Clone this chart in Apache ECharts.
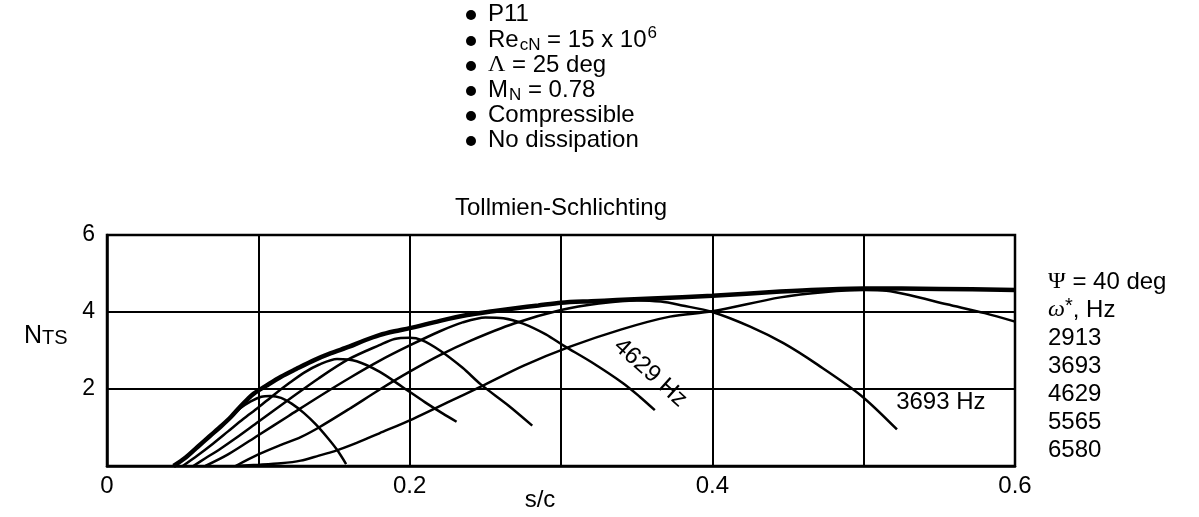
<!DOCTYPE html>
<html><head><meta charset="utf-8">
<script src="https://cdn.jsdelivr.net/npm/echarts/dist/echarts.min.js"></script>
<style>html,body{margin:0;padding:0;background:#fff}#c{width:1199px;height:517px}</style>
</head><body><div id="c"></div><script>
// ---- data (s/c, N_TS) ----
const xTickLabels = {0:'0', 2:'0.2', 4:'0.4', 6:'0.6'};
const yTickLabels = {2:'2', 4:'4', 6:'6'};
const freqLabels = ['2913','3693','4629','5565','6580'];
const envelope = [[0.044,0],[0.052,0.22],[0.06,0.5],[0.068,0.78],[0.075,1.02],[0.082,1.28],[0.088,1.54],[0.093,1.74],[0.097,1.88],[0.105,2.08],[0.115,2.32],[0.125,2.52],[0.137,2.75],[0.148,2.93],[0.16,3.1],[0.17,3.26],[0.18,3.4],[0.19,3.5],[0.2,3.58],[0.22,3.77],[0.238,3.92],[0.255,4.02],[0.27,4.1],[0.285,4.17],[0.3,4.24],[0.32,4.28],[0.337,4.31],[0.36,4.35],[0.4,4.42],[0.445,4.53],[0.47,4.58],[0.5,4.61],[0.55,4.6],[0.6,4.57]];
const curveUnlisted = [[0.044,0],[0.052,0.22],[0.06,0.5],[0.068,0.78],[0.075,1.02],[0.082,1.28],[0.088,1.5],[0.095,1.68],[0.102,1.8],[0.108,1.82],[0.115,1.77],[0.122,1.62],[0.13,1.38],[0.138,1.08],[0.146,0.72],[0.152,0.42],[0.158,0.05]];
const curve6580 = [[0.05,0],[0.06,0.28],[0.07,0.58],[0.08,0.9],[0.09,1.22],[0.1,1.52],[0.11,1.84],[0.12,2.14],[0.13,2.42],[0.14,2.63],[0.152,2.78],[0.165,2.72],[0.18,2.45],[0.195,2.06],[0.21,1.66],[0.222,1.36],[0.231,1.15]];
const curve5565 = [[0.057,0],[0.065,0.2],[0.075,0.45],[0.085,0.72],[0.1,1.15],[0.12,1.72],[0.14,2.28],[0.16,2.78],[0.18,3.14],[0.19,3.3],[0.2,3.33],[0.208,3.27],[0.22,3.0],[0.235,2.55],[0.247,2.12],[0.265,1.58],[0.281,1.05]];
const curve4629 = [[0.065,0],[0.08,0.3],[0.1,0.8],[0.12,1.3],[0.14,1.8],[0.16,2.28],[0.18,2.73],[0.2,3.13],[0.22,3.5],[0.235,3.73],[0.25,3.86],[0.262,3.84],[0.275,3.7],[0.29,3.42],[0.302,3.12],[0.32,2.7],[0.341,2.15],[0.352,1.8],[0.362,1.45]];
const curve3693 = [[0.085,0],[0.1,0.3],[0.115,0.55],[0.128,0.75],[0.14,1.0],[0.16,1.48],[0.18,1.98],[0.2,2.45],[0.22,2.88],[0.24,3.25],[0.269,3.7],[0.3,4.05],[0.325,4.22],[0.35,4.3],[0.366,4.27],[0.38,4.17],[0.4,4.0],[0.425,3.62],[0.447,3.19],[0.47,2.62],[0.498,1.84],[0.522,0.95]];
const curve2913 = [[0.085,0],[0.1,0.03],[0.115,0.07],[0.128,0.14],[0.14,0.27],[0.15,0.38],[0.165,0.6],[0.18,0.85],[0.202,1.22],[0.225,1.65],[0.247,2.06],[0.275,2.6],[0.306,3.1],[0.34,3.55],[0.372,3.88],[0.4,4.02],[0.445,4.38],[0.475,4.52],[0.5,4.57],[0.515,4.55],[0.53,4.44],[0.555,4.2],[0.58,3.97],[0.6,3.75]];
const label4629Anchor = [0.359, 2.42];
const label3693Anchor = [0.551, 1.64];

const FONT = '"Liberation Sans", Arial, Helvetica, sans-serif';
const SERIF = '"Liberation Serif", "Times New Roman", serif';

function line(name, data, w) {
  return {type:'line', name, data, symbol:'none', showSymbol:false, smooth:0.3,
    lineStyle:{color:'#000', width:w}, z:3, silent:true};
}

const chart = echarts.init(document.getElementById('c'), null, {renderer:'canvas'});
chart.setOption({
  animation:false,
  backgroundColor:'#fff',
  grid:{left:107, right:184, top:235, bottom:51, show:true, borderColor:'#000', borderWidth:2.5, backgroundColor:'transparent'},
  xAxis:{type:'value', min:0, max:0.6, interval:0.1,
    axisLine:{show:true, onZero:false, lineStyle:{color:'#000', width:2.5}},
    axisTick:{show:false},
    axisLabel:{color:'#000', fontSize:24, fontFamily:FONT, margin:8,
      formatter:v => { const k = Math.round(v*10); return xTickLabels[k] !== undefined ? xTickLabels[k] : ''; }},
    splitLine:{show:true, lineStyle:{color:'#000', width:2}}},
  yAxis:{type:'value', min:0, max:6, interval:2,
    axisLine:{show:true, lineStyle:{color:'#000', width:2.5}},
    axisTick:{show:false},
    axisLabel:{color:'#000', fontSize:23, fontFamily:FONT, margin:12,
      formatter:v => yTickLabels[Math.round(v)] || ''},
    splitLine:{show:true, lineStyle:{color:'#000', width:2}}},
  series:[
    line('envelope', envelope, 4.5),
    line('unlisted', curveUnlisted, 2.5),
    line(freqLabels[4], curve6580, 2.5),
    line(freqLabels[3], curve5565, 2.5),
    line(freqLabels[2], curve4629, 2.5),
    line(freqLabels[1], curve3693, 2.5),
    line(freqLabels[0], curve2913, 2.5)
  ]
});

const p4629 = chart.convertToPixel({gridIndex:0}, label4629Anchor);
const p3693 = chart.convertToPixel({gridIndex:0}, label3693Anchor);

const rich = {
  n:{fontSize:24, fontFamily:FONT, fill:'#000'},
  nb:{fontSize:25, fontFamily:FONT, fill:'#000'},
  s:{fontSize:17, fontFamily:FONT, padding:[11,0,0,1]},
  p:{fontSize:17, fontFamily:FONT, padding:[0,0,14,1]},
  t:{fontSize:20, fontFamily:FONT, padding:[5,0,0,0]},
  g:{fontSize:24, fontFamily:SERIF},
  w:{fontSize:24, fontFamily:SERIF, fontStyle:'italic'},
  st:{fontSize:20, fontFamily:FONT, padding:[0,0,8,0]}
};
function txt(x, y, text, align) {
  return {type:'text', x, y, z:10, silent:true,
    style:{text, rich, fontSize:24, fontFamily:FONT, fill:'#000', align:align||'left', verticalAlign:'middle'}};
}
const legendRows = [
  '{n|P11}',
  '{n|Re}{s|cN}{n| = 15 x 10}{p|6}',
  '{g|Λ}{n| = 25 deg}',
  '{n|M}{s|N}{n| = 0.78}',
  '{n|Compressible}',
  '{n|No dissipation}'
];
const legendY = [14, 40, 65, 90, 115, 140];
const graphics = [];
legendRows.forEach((t, i) => {
  graphics.push({type:'circle', shape:{cx:471, cy:legendY[i]+1, r:5}, style:{fill:'#000'}, silent:true});
  graphics.push(txt(488, legendY[i], t));
});
graphics.push(txt(561, 208, '{n|Tollmien-Schlichting}', 'center'));
graphics.push(txt(24, 336, '{nb|N}{t|TS}'));
graphics.push(txt(540, 500, '{n|s/c}', 'center'));
const rightRows = ['{g|Ψ}{n| = 40 deg}', '{w|ω}{st|*}{n|, Hz}'].concat(freqLabels.map(f => '{n|' + f + '}'));
const rightY = [282, 310, 338, 366, 394, 422, 450];
rightRows.forEach((t, i) => graphics.push(txt(1048, rightY[i], t)));
graphics.push({type:'text', x:p4629[0], y:p4629[1], rotation:-42*Math.PI/180, z:10, silent:true,
  style:{text:'4629 Hz', fontSize:24, fontFamily:FONT, fill:'#000', align:'center', verticalAlign:'middle'}});
graphics.push({type:'text', x:p3693[0], y:p3693[1], z:10, silent:true,
  style:{text:'3693 Hz', fontSize:24, fontFamily:FONT, fill:'#000', align:'center', verticalAlign:'middle'}});
chart.setOption({graphic:graphics});
</script></body></html>
